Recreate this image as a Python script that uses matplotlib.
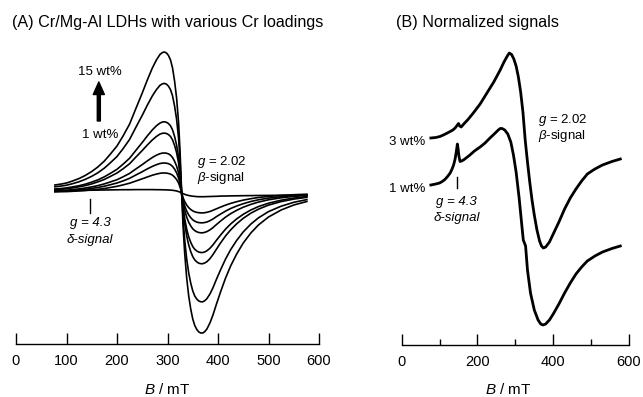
import matplotlib
matplotlib.use("Agg")
import matplotlib.pyplot as plt
from matplotlib.ticker import MultipleLocator

plt.rcParams['font.family'] = ['Liberation Sans', 'DejaVu Sans']
plt.rcParams['mathtext.fontset'] = 'custom'
plt.rcParams['mathtext.rm'] = 'Liberation Sans'
plt.rcParams['mathtext.it'] = 'Liberation Sans:italic'

# ---- (A) spectra (field in mT, intensity in a.u.)
field_a = [77, 90, 100, 112, 125, 137, 150, 162, 175, 187, 200, 212, 225, 237, 250,
           260, 270, 278, 285, 290, 294, 298, 302, 306, 310, 314, 318, 322, 325, 328,
           331, 334, 338, 342, 346, 350, 354, 358, 362, 366, 370, 374, 378, 384, 390,
           397, 405, 415, 425, 437, 450, 465, 480, 500, 525, 550, 576]
cr_15 = [8, 9, 10, 12, 14.5, 17.5, 21.5, 26, 32, 39, 47, 57, 69, 84, 100,
         113, 125, 133, 138.5, 140.5, 141, 140, 137.5, 133, 125, 112, 95, 70, 40, 0,
         -35, -60, -85, -103, -116, -126, -132.5, -136.5, -139, -140, -140, -138.5, -136, -130, -122,
         -111, -99, -85, -73, -61, -50, -40, -32, -24, -17, -12, -8.5]
cr_b = [6.2, 7, 7.8, 9.3, 11.3, 13.6, 16.7, 20.2, 24.9, 30.3, 36.5, 44.3, 53.6, 65.3, 77.7,
        87.8, 97.1, 103.3, 107.6, 109.2, 109.6, 108.8, 106.8, 103.3, 97.1, 87, 73.8, 54.4, 31.1, 0,
        -27.2, -46.6, -66, -80, -90.1, -97.9, -103, -106.1, -108, -108.8, -108.8, -107.6, -105.7, -101, -94.8,
        -86.2, -76.9, -66, -56.7, -47.4, -38.9, -31.1, -24.9, -18.6, -13.2, -9.3, -6.6]
cr_c = [4, 4.5, 5.1, 6.1, 7.3, 8.8, 10.9, 13.1, 16.2, 19.7, 23.7, 28.8, 34.8, 42.4, 50.5,
        57.1, 63.1, 67.2, 69.9, 71, 71.2, 70.7, 69.4, 67.2, 63.1, 56.6, 48, 35.4, 20.2, 0,
        -17.7, -30.3, -42.9, -52, -58.6, -63.6, -66.9, -68.9, -70.2, -70.7, -70.7, -69.9, -68.7, -65.7, -61.6,
        -56.1, -50, -42.9, -36.9, -30.8, -25.3, -20.2, -16.2, -12.1, -8.6, -6.1, -4.3]
cr_d = [3.4, 3.8, 4.3, 5.1, 6.2, 7.4, 9.1, 11.1, 13.6, 16.6, 20, 24.2, 29.3, 35.7, 42.5,
        48, 53.1, 56.5, 58.9, 59.7, 59.9, 59.5, 58.4, 56.5, 53.1, 47.6, 40.4, 29.8, 17, 0,
        -14.9, -25.5, -36.1, -43.8, -49.3, -53.6, -56.3, -58, -59.1, -59.5, -59.5, -58.9, -57.8, -55.3, -51.9,
        -47.2, -42.1, -36.1, -31, -25.9, -21.3, -17, -13.6, -10.2, -7.2, -5.1, -3.6]
cr_e = [2.3, 2.6, 2.8, 3.4, 4.1, 5, 6.1, 7.4, 9.1, 11.1, 13.3, 16.2, 19.6, 23.9, 28.4,
        32.1, 35.5, 37.8, 39.3, 39.9, 40, 39.8, 39.1, 37.8, 35.5, 31.8, 27, 19.9, 11.4, 0,
        -9.9, -17, -24.1, -29.3, -32.9, -35.8, -37.6, -38.8, -39.5, -39.8, -39.8, -39.3, -38.6, -36.9, -34.6,
        -31.5, -28.1, -24.1, -20.7, -17.3, -14.2, -11.4, -9.1, -6.8, -4.8, -3.4, -2.4]
cr_f = [1.7, 1.9, 2.1, 2.6, 3.1, 3.7, 4.6, 5.5, 6.8, 8.3, 10, 12.1, 14.7, 17.9, 21.3,
        24.1, 26.6, 28.3, 29.5, 29.9, 30, 29.8, 29.3, 28.3, 26.6, 23.9, 20.2, 14.9, 8.5, 0,
        -7.5, -12.8, -18.1, -21.9, -24.7, -26.8, -28.2, -29.1, -29.6, -29.8, -29.8, -29.5, -29, -27.7, -26,
        -23.6, -21.1, -18.1, -15.5, -13, -10.7, -8.5, -6.8, -5.1, -3.6, -2.6, -1.8]
cr_g = [1.1, 1.3, 1.4, 1.7, 2.1, 2.5, 3.1, 3.7, 4.5, 5.5, 6.7, 8.1, 9.8, 11.9, 14.2,
        16, 17.8, 18.9, 19.7, 20, 20, 19.9, 19.5, 18.9, 17.8, 15.9, 13.5, 9.9, 5.7, 0,
        -5, -8.5, -12.1, -14.6, -16.5, -17.9, -18.8, -19.4, -19.7, -19.9, -19.9, -19.7, -19.3, -18.5, -17.3,
        -15.8, -14.1, -12.1, -10.4, -8.7, -7.1, -5.7, -4.5, -3.4, -2.4, -1.7, -1.2]
cr_1 = [2, 2.1, 2.2, 2.4, 2.5, 2.7, 2.8, 2.9, 3, 3.1, 3.2, 3.3, 3.3, 3.4, 3.4,
        3.4, 3.4, 3.3, 3.3, 3.2, 3.2, 3.1, 3, 2.9, 2.7, 2.4, 2, 1.4, 0.8, 0,
        -0.7, -1.3, -2, -2.5, -2.9, -3.2, -3.4, -3.6, -3.7, -3.7, -3.7, -3.7, -3.6, -3.5, -3.4,
        -3.3, -3.1, -3, -2.9, -2.8, -2.7, -2.6, -2.5, -2.4, -2.3, -2.2, -2.1]
spectra_a = [cr_15, cr_b, cr_c, cr_d, cr_e, cr_f, cr_g, cr_1]

# ---- (B) normalized signals (offset as in the figure)
field_3 = [77, 90, 101, 110, 119, 128, 135, 141, 145, 148, 150, 153, 157, 165, 175,
           189, 207, 225, 243, 260, 270, 278, 284, 290, 296, 302, 308, 314, 320, 326,
           332, 338, 344, 350, 357, 364, 369, 374, 380, 390, 400, 415, 430, 445, 460,
           475, 490, 510, 530, 555, 577]
norm_3 = [62, 62.5, 63.5, 65, 66.7, 68.5, 70, 72, 74, 75.5, 76.5, 74, 73, 76.5, 80.5,
          87, 96, 107, 118, 130, 138, 143.5, 147, 145.5, 141, 134, 123, 108, 88, 60,
          38, 18, 0, -15, -30, -41, -46, -48, -47, -42, -34, -22, -9, 2, 11,
          19, 26, 31, 35, 38.5, 41]
field_1 = [77, 90, 100, 107, 114, 121, 128, 133, 137, 141, 144, 147, 149, 151, 154,
           158, 163, 170, 180, 192, 207, 220, 233, 247, 255, 260, 265, 272, 280, 288,
           295, 302, 310, 317, 321, 324, 327, 332, 340, 350, 360, 367, 373, 380, 390,
           400, 415, 430, 445, 460, 475, 490, 510, 530, 555, 577]
norm_1 = [15, 16, 17, 18.5, 20.5, 23.5, 27, 31, 35, 41, 48, 56, 51, 44, 38.5,
          39, 40, 42, 45, 49, 53, 57, 62, 67, 70, 71.5, 71.5, 70, 66, 58,
          45, 28, 2, -25, -40, -43, -46, -70, -93, -110, -120, -124, -125, -124, -120,
          -114, -104, -93, -83, -74, -67, -61, -56, -52, -48.5, -46]

W, H = 643, 397
fig = plt.figure(figsize=(W / 100, H / 100), dpi=100)
axA = fig.add_axes([16 / W, 53 / H, 303 / W, 304 / H])
axB = fig.add_axes([401.7 / W, 52 / H, 227.3 / W, 305 / H])

for y in spectra_a:
    axA.plot(field_a, y, color='k', lw=1.2)
axB.plot(field_3, norm_3, color='k', lw=2.0)
axB.plot(field_1, norm_1, color='k', lw=2.0)

axA.set_ylim(-151, 153)
axB.set_ylim(-145, 160)
for ax in (axA, axB):
    ax.set_xlim(0, 600)
    for s in ('top', 'left', 'right'):
        ax.spines[s].set_visible(False)
    ax.spines['bottom'].set_linewidth(1.0)
    ax.set_yticks([])
    ax.tick_params(axis='x', direction='in', length=8, width=1, pad=7, labelsize=10.5)
    ax.patch.set_visible(False)

axA.xaxis.set_major_locator(MultipleLocator(100))
axB.xaxis.set_major_locator(MultipleLocator(200))
axB.xaxis.set_minor_locator(MultipleLocator(100))
axB.tick_params(axis='x', which='minor', direction='in', length=4, width=1)

fs = 9.5
fig.text(11.7 / W, 1 - 22.7 / H, '(A) Cr/Mg-Al LDHs with various Cr loadings', fontsize=11.6, va='center')
fig.text(395.7 / W, 1 - 22.7 / H, '(B) Normalized signals', fontsize=11.6, va='center')
fig.text(167 / W, 1 - 390 / H, '$B$ / mT', fontsize=11, ha='center', va='center')
fig.text(508 / W, 1 - 390 / H, '$B$ / mT', fontsize=11, ha='center', va='center')

# annotations panel A
axA.text(166, 121, '15 wt%', fontsize=fs, ha='center', va='center')
axA.text(166, 58, '1 wt%', fontsize=fs, ha='center', va='center')
axA.annotate('', xy=(164, 111), xytext=(164, 72),
             arrowprops=dict(width=2.2, headwidth=8, headlength=9, color='k'))
axA.text(358, 31, '$g$ = 2.02', fontsize=fs, ha='left', va='center')
axA.text(358, 15, r'$\beta$-signal', fontsize=fs, ha='left', va='center')
axA.plot([146.5, 146.5], [-6, -20], color='k', lw=1)
axA.text(146.5, -30, 'g = 4.3', fontsize=fs, ha='center', va='center', style='italic')
axA.text(146.5, -47, 'δ-signal', fontsize=fs, ha='center', va='center', style='italic')

# annotations panel B
axB.text(63, 58, '3 wt%', fontsize=fs, ha='right', va='center')
axB.text(63, 11, '1 wt%', fontsize=fs, ha='right', va='center')
axB.plot([145, 145], [23, 12], color='k', lw=1)
axB.text(145, -2, 'g = 4.3', fontsize=fs, ha='center', va='center', style='italic')
axB.text(145, -17.5, 'δ-signal', fontsize=fs, ha='center', va='center', style='italic')
axB.text(361, 80, '$g$ = 2.02', fontsize=fs, ha='left', va='center')
axB.text(361, 63.5, r'$\beta$-signal', fontsize=fs, ha='left', va='center')

fig.savefig('out.png', dpi=100)
